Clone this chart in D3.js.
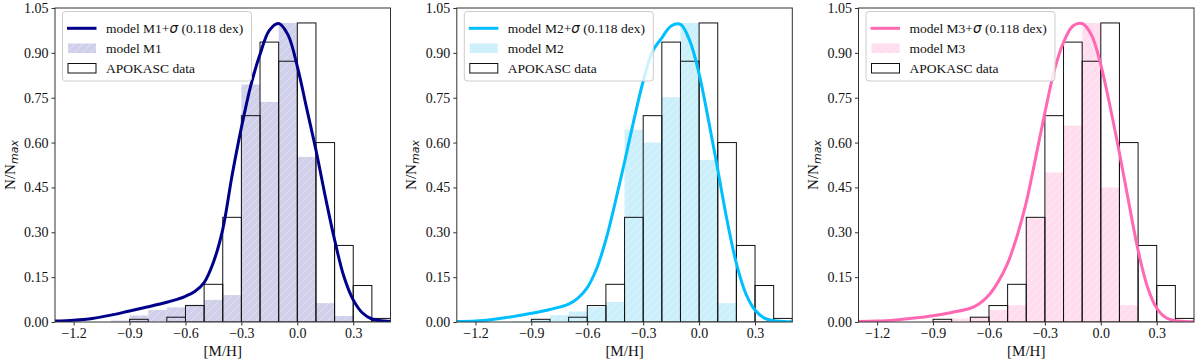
<!DOCTYPE html>
<html>
<head>
<meta charset="utf-8">
<script src="https://cdn.jsdelivr.net/npm/d3@7"></script>
<style>
  html, body { margin: 0; padding: 0; background: #fff; }
  svg { display: block; }
  text { font-family: "Liberation Serif", "Times New Roman", serif; fill: #111; }
</style>
</head>
<body>
<div id="chart"></div>
<script>
// histogram bins: lower edges, width 0.1 dex
const binEdges = [-1.0, -0.9, -0.8, -0.7, -0.6, -0.5, -0.4, -0.3, -0.2, -0.1, 0.0, 0.1, 0.2, 0.3, 0.4];
const binWidth = 0.1;

// APOKASC data (same in all panels)
const apokasc = [0, 0.009, 0, 0.016, 0.055, 0.126, 0.35, 0.69, 0.936, 0.872, 1.0, 0.60, 0.256, 0.122, 0.012];

// model histograms
const modelM1 = [0.005, 0.022, 0.04, 0.049, 0.058, 0.074, 0.09, 0.794, 0.736, 1.0, 0.552, 0.063, 0.02, 0, 0];
const modelM2 = [0.003, 0.01, 0.023, 0.035, 0.05, 0.067, 0.643, 0.60, 0.752, 1.0, 0.542, 0.063, 0, 0, 0];
const modelM3 = [0.002, 0.005, 0.012, 0.018, 0.04, 0.056, 0.347, 0.50, 0.657, 1.0, 0.45, 0.056, 0, 0, 0];

// smoothed model + sigma curves, sampled on curveX
const curveX = [-1.3, -1.2, -1.1, -1.0, -0.9, -0.8, -0.7, -0.65, -0.6, -0.55, -0.5, -0.45, -0.4, -0.35, -0.3,
  -0.25, -0.2, -0.15, -0.1, -0.05, 0.0, 0.05, 0.1, 0.15, 0.2, 0.25, 0.3, 0.35, 0.4, 0.45, 0.5];
const curveM1 = [0.003, 0.006, 0.012, 0.023, 0.037, 0.051, 0.066, 0.075, 0.086, 0.102, 0.132, 0.2, 0.31, 0.49, 0.65,
  0.79, 0.895, 0.975, 0.998, 0.96, 0.855, 0.715, 0.575, 0.42, 0.275, 0.152, 0.074, 0.03, 0.01, 0.004, 0.002];
const curveM2 = [0.002, 0.003, 0.009, 0.018, 0.029, 0.042, 0.06, 0.08, 0.115, 0.178, 0.275, 0.40, 0.535, 0.675, 0.805,
  0.905, 0.95, 0.99, 0.995, 0.94, 0.83, 0.676, 0.51, 0.34, 0.196, 0.096, 0.04, 0.013, 0.004, 0.002, 0.001];
const curveM3 = [0.002, 0.003, 0.007, 0.013, 0.021, 0.032, 0.046, 0.062, 0.09, 0.135, 0.196, 0.286, 0.40, 0.548, 0.70,
  0.84, 0.935, 0.99, 0.998, 0.96, 0.86, 0.72, 0.565, 0.40, 0.24, 0.118, 0.046, 0.014, 0.004, 0.002, 0.001];

const xTicks = [-1.2, -0.9, -0.6, -0.3, 0.0, 0.3];
const yTicks = [0, 0.15, 0.30, 0.45, 0.60, 0.75, 0.90, 1.05];

const panels = [
  { name: 'M1', hist: modelM1, curve: curveM1, line: '#00008B', fill: '#D0D0EB' },
  { name: 'M2', hist: modelM2, curve: curveM2, line: '#00BFFF', fill: '#CCEFFC' },
  { name: 'M3', hist: modelM3, curve: curveM3, line: '#FF69B4', fill: '#FFDDEE' }
];

const W = 1200, H = 363;
const lefts = [55, 456.8, 858.5];
const plotW = 335.5;
const plotTop = 8, plotBottom = 322;

const svg = d3.select('#chart').append('svg')
  .attr('width', W)
  .attr('height', H);

const defs = svg.append('defs');
const fmtTick = v => d3.format('.1f')(v).replace('-', '\u2212');
const fmtY = v => d3.format('.2f')(v);

panels.forEach((p, i) => {
  const left = lefts[i];
  const x = d3.scaleLinear().domain([-1.3, 0.5]).range([left, left + plotW]);
  const y = d3.scaleLinear().domain([0, 1.05]).range([plotBottom, plotTop]);

  // clip + hatch pattern
  defs.append('clipPath').attr('id', `clip${i}`)
    .append('rect').attr('x', left).attr('y', plotTop).attr('width', plotW).attr('height', plotBottom - plotTop);
  const pat = defs.append('pattern').attr('id', `hatch${i}`)
    .attr('patternUnits', 'userSpaceOnUse').attr('width', 8).attr('height', 8);
  pat.append('rect').attr('width', 8).attr('height', 8).attr('fill', p.fill);
  pat.append('path').attr('d', 'M-1,1 L1,-1 M0,8 L8,0 M7,9 L9,7')
    .attr('stroke', '#fff').attr('stroke-opacity', 0.35).attr('stroke-width', 1);

  const g = svg.append('g');
  const plot = g.append('g').attr('clip-path', `url(#clip${i})`);

  // model histogram
  plot.append('g').selectAll('rect')
    .data(binEdges.map((e, k) => ({ x0: e, v: p.hist[k] })).filter(d => d.v > 0))
    .enter().append('rect')
    .attr('x', d => x(d.x0))
    .attr('y', d => y(d.v))
    .attr('width', d => x(d.x0 + binWidth) - x(d.x0))
    .attr('height', d => y(0) - y(d.v))
    .attr('fill', `url(#hatch${i})`);

  // APOKASC outline histogram
  plot.append('g').selectAll('rect')
    .data(binEdges.map((e, k) => ({ x0: e, v: apokasc[k] })).filter(d => d.v > 0))
    .enter().append('rect')
    .attr('x', d => x(d.x0))
    .attr('y', d => y(d.v))
    .attr('width', d => x(d.x0 + binWidth) - x(d.x0))
    .attr('height', d => y(0) - y(d.v))
    .attr('fill', 'none')
    .attr('stroke', '#111')
    .attr('stroke-width', 1);

  // model + sigma curve
  const line = d3.line()
    .x((d, k) => x(curveX[k]))
    .y(d => y(d))
    .curve(d3.curveCatmullRom.alpha(0.5));
  plot.append('path')
    .attr('d', line(p.curve))
    .attr('fill', 'none')
    .attr('stroke', p.line)
    .attr('stroke-width', 3)
    .attr('stroke-linejoin', 'round');

  // frame
  g.append('rect')
    .attr('x', left).attr('y', plotTop)
    .attr('width', plotW).attr('height', plotBottom - plotTop)
    .attr('fill', 'none').attr('stroke', '#333').attr('stroke-width', 1);

  // axes
  const xAxis = d3.axisBottom(x).tickValues(xTicks).tickFormat(fmtTick).tickSizeInner(3.5).tickSizeOuter(0).tickPadding(3);
  const yAxis = d3.axisLeft(y).tickValues(yTicks).tickFormat(fmtY).tickSizeInner(3.5).tickSizeOuter(0).tickPadding(3);
  const gx = g.append('g').attr('transform', `translate(0,${plotBottom})`).call(xAxis);
  const gy = g.append('g').attr('transform', `translate(${left},0)`).call(yAxis);
  [gx, gy].forEach(a => {
    a.select('.domain').remove();
    a.selectAll('line').attr('stroke', '#333');
    a.selectAll('text').attr('font-size', 14).attr('fill', '#111')
      .style('font-family', '"Liberation Serif", "Times New Roman", serif');
  });

  // axis labels
  g.append('text')
    .attr('x', left + plotW / 2).attr('y', 356)
    .attr('text-anchor', 'middle').attr('font-size', 15)
    .text('[M/H]');
  const yl = g.append('text')
    .attr('transform', `translate(${left - 40.5},${(plotTop + plotBottom) / 2}) rotate(-90)`)
    .attr('text-anchor', 'middle').attr('font-size', 15);
  yl.append('tspan').text('N/N');
  yl.append('tspan').attr('dy', 3).attr('font-size', 11)
    .style('font-family', '"DejaVu Sans", sans-serif').style('font-style', 'italic').text('max');

  // legend
  const lg = g.append('g').attr('transform', `translate(${left},0)`);
  lg.append('rect')
    .attr('x', 7.5).attr('y', 11.5).attr('width', 189).attr('height', 69.5).attr('rx', 3)
    .attr('fill', '#fff').attr('fill-opacity', 0.8)
    .attr('stroke', '#ccc').attr('stroke-width', 1);
  lg.append('line')
    .attr('x1', 12).attr('x2', 41.5).attr('y1', 28.3).attr('y2', 28.3)
    .attr('stroke', p.line).attr('stroke-width', 3);
  lg.append('rect')
    .attr('x', 13).attr('y', 43.5).attr('width', 28).attr('height', 9.5)
    .attr('fill', `url(#hatch${i})`);
  lg.append('rect')
    .attr('x', 13).attr('y', 63.5).attr('width', 28).attr('height', 9.5)
    .attr('fill', '#fff').attr('stroke', '#111').attr('stroke-width', 1);
  const t1 = lg.append('text').attr('x', 51).attr('y', 32.8).attr('font-size', 13.5);
  t1.append('tspan').text(`model ${p.name}+`);
  t1.append('tspan').style('font-family', '"DejaVu Sans", sans-serif').style('font-style', 'italic').text('\u03C3');
  t1.append('tspan').text(' (0.118 dex)');
  lg.append('text').attr('x', 51).attr('y', 52.8).attr('font-size', 13.5).text(`model ${p.name}`);
  lg.append('text').attr('x', 51).attr('y', 72.8).attr('font-size', 13.5).text('APOKASC data');
});
</script>
</body>
</html>
